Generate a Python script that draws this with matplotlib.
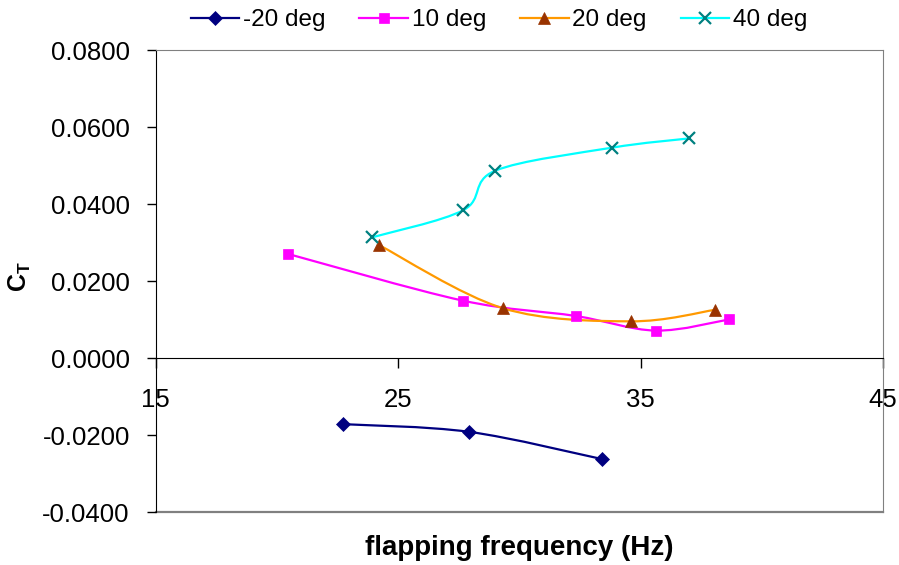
import numpy as np
import matplotlib
matplotlib.use('Agg')
import matplotlib.pyplot as plt
from matplotlib.path import Path
from matplotlib.patches import PathPatch
from matplotlib.lines import Line2D

plt.rcParams['font.family'] = ['Liberation Sans', 'DejaVu Sans']
plt.rcParams['mathtext.fontset'] = 'custom'
plt.rcParams['mathtext.rm'] = 'Liberation Sans'
plt.rcParams['mathtext.bf'] = 'Liberation Sans:bold'

# data
freq_m20 = [22.72, 27.93, 33.43]
ct_m20 = [-0.0171, -0.0191, -0.0262]

freq_10 = [20.47, 27.66, 32.32, 35.63, 38.66]
ct_10 = [0.0271, 0.0150, 0.0110, 0.0072, 0.0101]

freq_20 = [24.22, 29.33, 34.59, 38.08]
ct_20 = [0.0294, 0.0130, 0.0096, 0.0126]

freq_40 = [23.92, 27.70, 29.00, 33.82, 36.98]
ct_40 = [0.0314, 0.0385, 0.0487, 0.0547, 0.0571]

labels = ['-20 deg', '10 deg', '20 deg', '40 deg']


def smooth_path(xs, ys):
    # Excel style smoothed line: Catmull-Rom segments as cubic Beziers
    p = np.column_stack([xs, ys])
    n = len(p)
    verts = [p[0]]
    codes = [Path.MOVETO]
    for i in range(n - 1):
        p0 = p[i - 1] if i > 0 else p[i]
        p3 = p[i + 2] if i + 2 < n else p[i + 1]
        c1 = p[i] + (p[i + 1] - p0) / 6
        c2 = p[i + 1] - (p3 - p[i]) / 6
        verts += [c1, c2, p[i + 1]]
        codes += [Path.CURVE4] * 3
    return Path(verts, codes)


fig = plt.figure(figsize=(8.99, 5.65), dpi=100)
ax = fig.add_axes([155.5 / 899, 1 - 512.3 / 565, 727.5 / 899, 462 / 565])

series = [
    (freq_m20, ct_m20, '#000080', 'D', '#000080', 7.5),
    (freq_10, ct_10, '#FF00FF', 's', '#FF00FF', 7.5),
    (freq_20, ct_20, '#FF9900', '^', '#993300', 8.5),
    (freq_40, ct_40, '#00FFFF', 'x', '#008080', 8.5),
]

handles = []
for (xs, ys, lc, mk, mc, ms), lab in zip(series, labels):
    ax.add_patch(PathPatch(smooth_path(xs, ys), fill=False, edgecolor=lc, lw=1.6, zorder=2))
    ax.plot(xs, ys, linestyle='none', marker=mk, markersize=ms, color=mc,
            markeredgewidth=1.6 if mk == 'x' else 0.5, zorder=3)
    handles.append(Line2D([], [], color=lc, lw=1.6, marker=mk, markersize=ms,
                          markerfacecolor=mc, markeredgecolor=mc,
                          markeredgewidth=1.6 if mk == 'x' else 0.5))

ax.set_xlim(15, 45)
ax.set_ylim(-0.04, 0.08)
ax.set_xticks([15, 25, 35, 45])
ax.set_yticks(np.arange(-0.04, 0.0801, 0.02))
ax.yaxis.set_major_formatter(plt.FuncFormatter(lambda v, p: f'{v:.4f}'))

for s in ['top', 'right']:
    ax.spines[s].set_color('#808080')
ax.spines['bottom'].set_position(('data', 0))
ax.spines['bottom'].set_color('black')
ax.spines['left'].set_color('black')
ax.axhline(-0.04, color='#808080', lw=1.6, clip_on=False, zorder=1)

ax.tick_params(axis='y', direction='out', length=6.5, width=1, labelsize=18.5, pad=12)
ax.tick_params(axis='x', direction='out', length=7, width=1, labelsize=18.5, pad=14.5)

ax.set_xlabel('flapping frequency (Hz)', fontsize=20, fontweight='bold')
ax.xaxis.set_label_coords(0.5, -0.05)
ax.set_ylabel(r'$\mathbf{C_T}$', fontsize=18)
ax.yaxis.set_label_coords(-0.168, 0.51)

fig.legend(handles, labels, loc='center', bbox_to_anchor=(0.555, 1 - 20 / 565), ncol=4,
           frameon=False, fontsize=17.5, handlelength=2.0, handletextpad=0.15,
           columnspacing=1.4)

fig.savefig('out.png', dpi=100)
